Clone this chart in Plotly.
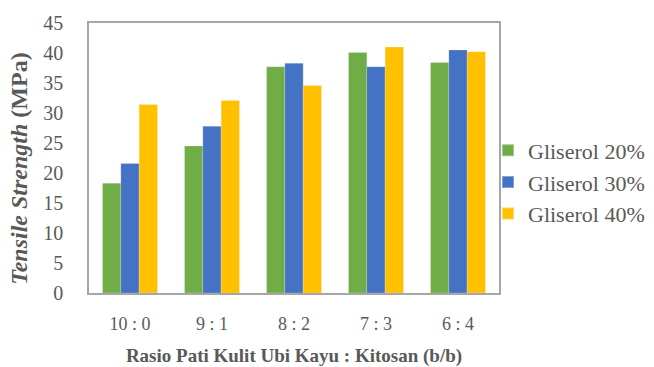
import plotly.graph_objects as go

# Rasio pati kulit ubi kayu : kitosan (b/b)
rasio = ["10 : 0", "9 : 1", "8 : 2", "7 : 3", "6 : 4"]

# Tensile strength (MPa) per glycerol level
gliserol_20 = [18.3, 24.5, 37.7, 40.1, 38.4]
gliserol_30 = [21.6, 27.8, 38.3, 37.7, 40.5]
gliserol_40 = [31.4, 32.1, 34.6, 41.0, 40.2]

series_names = ["Gliserol 20%", "Gliserol 30%", "Gliserol 40%"]
series_colors = ["#70AD47", "#4472C4", "#FFC000"]

y_ticks = [0, 5, 10, 15, 20, 25, 30, 35, 40, 45]

FONT = "Liberation Serif, Times New Roman, serif"
TEXT = "#595959"

W, H = 654, 367
ML, MR, MT, MB = 89, 0, 23, 74
PLOT_RIGHT = 499  # right edge of the bar area, px
inner_w = W - ML - MR

fig = go.Figure()
for name, vals, col in zip(series_names, [gliserol_20, gliserol_30, gliserol_40], series_colors):
    fig.add_trace(go.Bar(
        x=rasio, y=vals, name=name,
        marker=dict(color=col, line=dict(color="rgba(255,255,255,0.35)", width=0.6)),
    ))

fig.update_layout(
    width=W, height=H,
    margin=dict(l=ML, r=MR, t=MT, b=MB),
    paper_bgcolor="white", plot_bgcolor="white",
    barmode="group", bargap=0.33, bargroupgap=0,
    font=dict(family=FONT, size=18, color=TEXT),
    showlegend=True,
    legend=dict(
        x=(488 - ML) / inner_w, xanchor="left", y=0.411, yanchor="middle",
        font=dict(family=FONT, size=22, color=TEXT),
        bgcolor="rgba(0,0,0,0)", borderwidth=0,
        tracegroupgap=0, itemsizing="constant",
    ),
    xaxis=dict(
        domain=[0, (PLOT_RIGHT - ML) / inner_w], automargin=False,
        showline=True, linecolor="#A6A6A6", linewidth=1.5, mirror=True,
        showgrid=False, ticks="", ticklabelstandoff=14,
        tickfont=dict(family=FONT, size=18, color=TEXT),
        title=dict(text="<b>Rasio Pati Kulit Ubi Kayu : Kitosan (b/b)</b>",
                   font=dict(family=FONT, size=19, color=TEXT), standoff=17),
    ),
    yaxis=dict(
        range=[0, 45], tickvals=y_ticks, automargin=False,
        showline=True, linecolor="#A6A6A6", linewidth=1.5, mirror=True,
        showgrid=False, zeroline=False, ticks="", ticklabelstandoff=20,
        tickfont=dict(family=FONT, size=20, color=TEXT),
    ),
)

# Vertical y-axis title
fig.add_annotation(
    text="<b><i>Tensile Strength</i> (MPa)</b>",
    xref="paper", yref="paper", x=0, y=0.46,
    xshift=-70, xanchor="center", yanchor="middle",
    textangle=-90, showarrow=False,
    font=dict(family=FONT, size=24, color=TEXT),
)

fig.write_html("out.html")
